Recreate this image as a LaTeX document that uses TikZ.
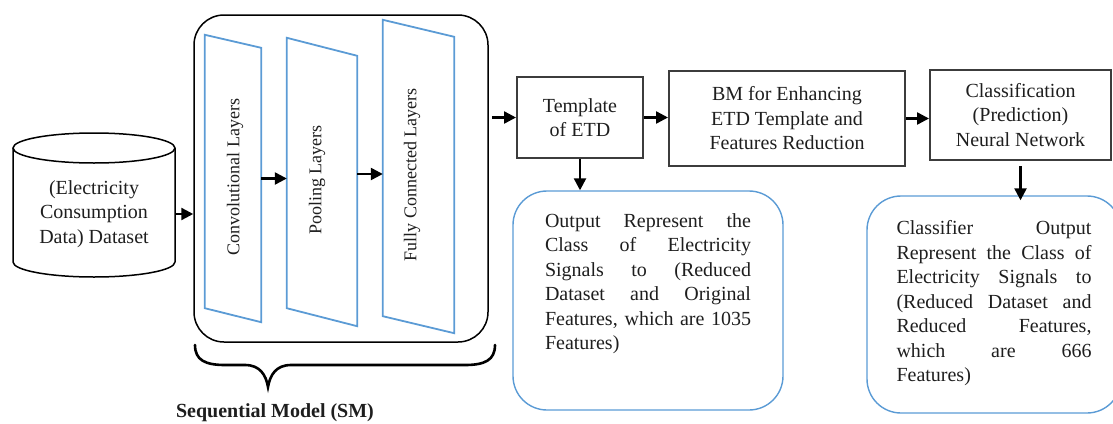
\documentclass[tikz,border=0pt]{standalone}
\usepackage{fontspec}
\setmainfont{Liberation Serif}
\usetikzlibrary{arrows.meta}
\definecolor{layerblue}{RGB}{91,155,213}
\definecolor{boxgray}{RGB}{60,60,60}
\definecolor{ink}{RGB}{30,30,30}

\begin{document}
\begin{tikzpicture}[x=1pt,y=-1pt,
  txt/.style={font=\fontsize{20}{24.5}\selectfont, text=ink},
  arr/.style={line width=2.4pt, -{Triangle[length=12pt,width=12pt]}},
  graybox/.style={draw=boxgray, line width=2pt, txt, align=center, inner sep=0pt},
  outbox/.style={draw=layerblue, line width=1.4pt, rounded corners=34pt},
  layer/.style={inner sep=0pt},
  layerline/.style={draw=layerblue, line width=1.8pt},
  vtext/.style={rotate=90, font=\fontsize{18}{20}\selectfont, text=ink},
  para/.style={txt, text width=#1, align=justify, inner sep=0pt}
]
\useasboundingbox (0,0) rectangle (1113,423);

% dataset cylinder
\node[txt, align=center, inner sep=0pt, minimum width=162pt, minimum height=144pt] (ds) at (94,214)
  {(Electricity\\Consumption\\Data) Dataset};
\draw[line width=1.5pt] (13,148) -- (13,262)
  arc[start angle=180, end angle=360, x radius=81pt, y radius=15pt] -- (175,148);
\draw[line width=1.5pt] (94,148) ellipse[x radius=81pt, y radius=15pt];

% sequential model container
\node[draw, line width=1.5pt, rounded corners=30pt, minimum width=294pt, minimum height=327pt] (sm) at (341,178.5) {};

% layers
\node[layer, minimum width=56pt, minimum height=287pt] (conv) at (233,178.5) {};
\draw[layerline] (conv.north west) -- ([yshift=-13pt]conv.north east) -- (conv.south east)
  -- ([yshift=14pt]conv.south west) -- cycle;
\node[vtext] at (235,177) {Convolutional Layers};

\node[layer, minimum width=70pt, minimum height=288pt] (pool) at (322,182) {};
\draw[layerline] (pool.north west) -- ([yshift=-18pt]pool.north east) -- (pool.south east)
  -- ([yshift=18pt]pool.south west) -- cycle;
\node[vtext] at (317,180) {Pooling Layers};

\node[layer, minimum width=71pt, minimum height=313pt] (fc) at (418.5,176.5) {};
\draw[layerline] (fc.north west) -- ([yshift=-17pt]fc.north east) -- (fc.south east)
  -- ([yshift=17pt]fc.south west) -- cycle;
\node[vtext] at (412,175) {Fully Connected Layers};

\draw[arr] (conv.east) -- (conv.east -| pool.west);
\draw[arr] ([yshift=8pt]pool.east) -- ([yshift=8pt]pool.east -| fc.west);
\draw[arr] (ds.east) -- (ds.east -| sm.west);

% processing boxes
\node[graybox, minimum width=126pt, minimum height=81pt] (tmpl) at (580,117.5) {Template\\of ETD};
\node[graybox, minimum width=236pt, minimum height=95pt] (bm) at (787,118.5)
  {BM for Enhancing\\ETD Template and\\Features Reduction};
\node[graybox, minimum width=181pt, minimum height=90pt] (cls) at (1020.5,115)
  {Classification\\(Prediction)\\Neural Network};

\draw[arr] ([xshift=3pt]sm.east |- tmpl.west) -- (tmpl.west);
\draw[arr] (tmpl.east) -- (tmpl.east -| bm.west);
\draw[arr] (bm.east) -- (bm.east -| cls.west);

% output boxes
\node[outbox, minimum width=270pt, minimum height=219pt] (out1) at (648,300.5) {};
\node[para=206pt, anchor=north] (out1t) at ([yshift=-23pt]out1.north)
  {Output Represent the\linebreak Class of Electricity\linebreak Signals to (Reduced\linebreak
   Dataset and Original\linebreak Features, which are 1035\linebreak Features)};
\draw[arr] (tmpl.south) -- (tmpl.south |- out1.north);

\node[outbox, minimum width=254pt, minimum height=217pt] (out2) at (994,304.5) {};
\node[para=195pt, anchor=north] (out2t) at ([yshift=-25pt]out2.north)
  {Classifier Output\linebreak Represent the Class of\linebreak Electricity Signals to\linebreak
   (Reduced Dataset and\linebreak Reduced Features,\linebreak which are 666\linebreak Features)};
\draw[arr] ([yshift=-5pt]cls.south) -- ([yshift=-5pt]cls.south |- out2.north);

% brace under the sequential model
\draw[line width=2.6pt, line cap=round] (195,345) .. controls (195,360) and (205,365) .. (225,365)
  -- (245,365) .. controls (260,365) and (266,375) .. (268,387)
  .. controls (270,375) and (276,365) .. (291,365) -- (465,365)
  .. controls (485,365) and (495,360) .. (495,345);
\node[font=\bfseries\fontsize{20}{24}\selectfont, text=ink] (smlabel) at (275,413) {Sequential Model (SM)};
\end{tikzpicture}
\end{document}
